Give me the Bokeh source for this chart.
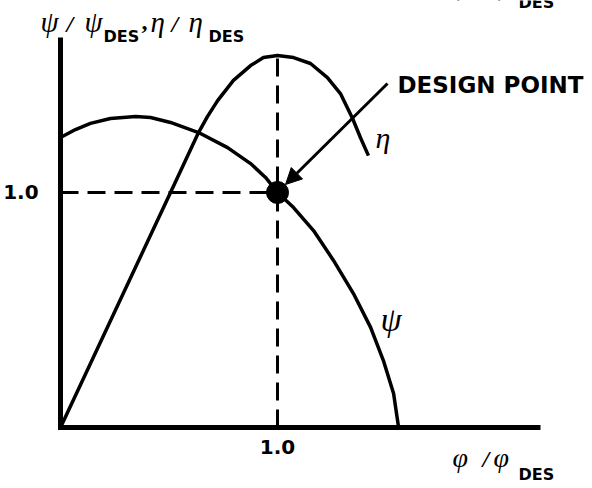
from bokeh.plotting import figure
from bokeh.models import Range1d, Arrow, NormalHead
from bokeh.core.properties import value
from bokeh.embed import file_html
from bokeh.resources import INLINE

# Normalised flow coefficient phi/phi_des and the two characteristics
psi_x = [0.000, 0.069, 0.138, 0.230, 0.346, 0.415, 0.507, 0.636, 0.770, 0.876,
         0.945, 1.000, 1.074, 1.166, 1.258, 1.350, 1.429, 1.488, 1.535, 1.558]
psi_y = [1.234, 1.268, 1.294, 1.315, 1.323, 1.319, 1.298, 1.255, 1.191, 1.123,
         1.064, 1.000, 0.936, 0.838, 0.711, 0.570, 0.426, 0.285, 0.145, 0.000]

eta_x = [0.000, 0.507, 0.636, 0.677, 0.724, 0.797, 0.876, 0.935, 1.000, 1.074,
         1.152, 1.230, 1.290, 1.346, 1.382, 1.419]
eta_y = [0.000, 1.000, 1.255, 1.323, 1.391, 1.477, 1.540, 1.574, 1.583, 1.574,
         1.549, 1.489, 1.421, 1.315, 1.234, 1.157]

design_x = [1.0]
design_y = [1.0]
tick_values = [1.0]
tick_labels = ["1.0"]

# extent of the drawn axes
x_axis_end = 2.212
y_axis_end = 1.66

eta_peak = max(eta_y)

p = figure(width=592, height=488, output_backend="svg", toolbar_location=None,
           title=None, x_axis_type=None, y_axis_type=None,
           x_range=Range1d(-0.2765, 2.4516), y_range=Range1d(-0.2596, 1.8170),
           min_border=0)
p.background_fill_color = "white"
p.border_fill_color = "white"
p.outline_line_color = None
p.grid.visible = False

# axes
p.line([0, 0, x_axis_end], [y_axis_end, 0, 0], line_color="black",
       line_width=5, line_join="miter")

# tick labels
tick_style = dict(text_font=value("DejaVu Sans"), text_font_style="bold",
                  text_font_size="20px", text_color="black")
p.text(x=tick_values, y=[-0.085] * len(tick_values), text=tick_labels,
       text_align="center", text_baseline="middle", **tick_style)
p.text(x=[-0.101] * len(tick_values), y=tick_values, text=tick_labels,
       text_align="right", text_baseline="middle", **tick_style)

# guide lines through the design point
p.line([0, design_x[0]], [design_y[0], design_y[0]], line_color="black",
       line_width=3, line_dash="18 9")
p.line([design_x[0], design_x[0]], [0, eta_peak], line_color="black",
       line_width=3, line_dash="18 9")

# characteristics
p.line(psi_x, psi_y, line_color="black", line_width=3.5, line_join="round")
p.line(eta_x, eta_y, line_color="black", line_width=3.5, line_join="round")

p.scatter(design_x, design_y, size=22, color="black")

p.add_layout(Arrow(end=NormalHead(size=16, fill_color="black", line_color="black"),
                   x_start=1.507, y_start=1.464, x_end=1.037, y_end=1.034,
                   line_width=3, line_color="black"))


def put(text, x, y, size, font="Liberation Serif", style="italic"):
    p.text(x=[x], y=[y], text=[text], text_font=value(font),
           text_font_size=f"{size}px", text_font_style=style,
           text_color="black", text_baseline="alphabetic", text_align="left")


def sub(text, x, y, size=16):
    put(text, x, y, size, font="DejaVu Sans", style="bold")


# y-axis title
put("\u03c8", -0.092, 1.724, 29)
put("/", 0.028, 1.716, 24, style="bold italic")
put("\u03c8", 0.111, 1.724, 29)
sub("DES", 0.198, 1.664)
put(",", 0.373, 1.728, 24, style="bold")
put("\u03b7", 0.415, 1.724, 29)
put("/", 0.512, 1.716, 24, style="bold italic")
put("\u03b7", 0.590, 1.724, 29)
sub("DES", 0.682, 1.664)

# x-axis title (also repeated along the top edge)
for dy in (0.0, 2.009):
    put("\u03c6", 1.806, -0.129 + dy, 28)
    put("/", 1.945, -0.135 + dy, 24, style="bold italic")
    put("\u03c6", 1.995, -0.129 + dy, 28)
    sub("DES", 2.111, -0.200 + dy)

# curve and point annotations
put("DESIGN POINT", 1.553, 1.458, 23, font="DejaVu Sans", style="bold")
put("\u03b7", 1.452, 1.232, 30)
put("\u03c8", 1.475, 0.459, 34)

open("out.html", "w").write(file_html(p, INLINE))
